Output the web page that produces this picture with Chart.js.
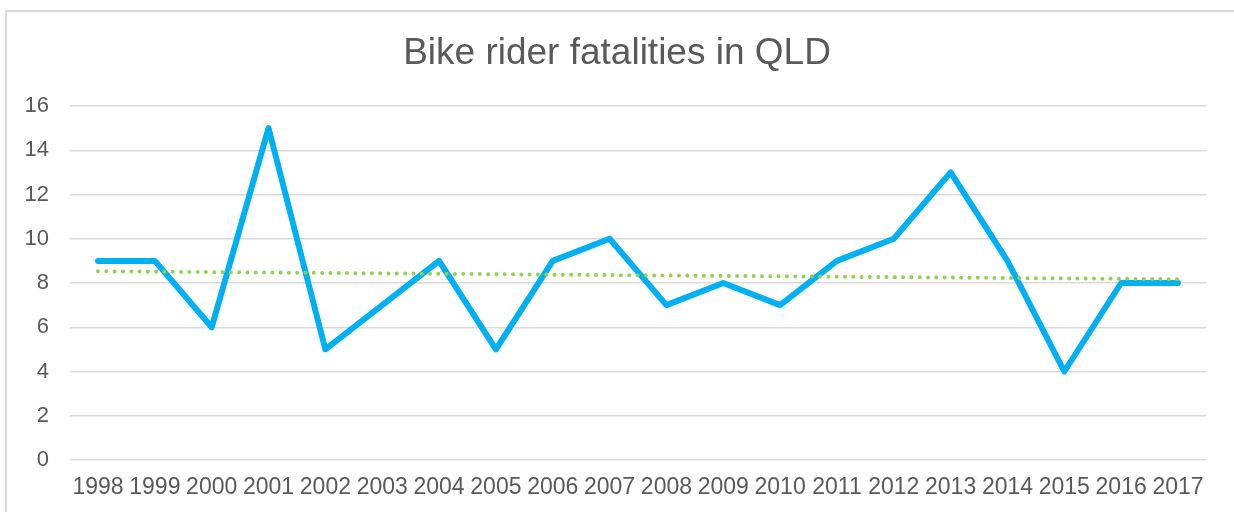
<!DOCTYPE html>
<html>
<head>
<meta charset="utf-8">
<script src="https://cdn.jsdelivr.net/npm/chart.js@4/dist/chart.umd.min.js"></script>
<style>
  html, body { margin: 0; padding: 0; background: #fff; overflow: hidden; }
  #frame { position: absolute; left: 5px; top: 10px; width: 1250px; height: 530px; border: 2px solid #d9d9d9; box-sizing: border-box; }
  #mychart { position: absolute; left: 0; top: 0; }
</style>
</head>
<body>
<div id="frame"></div>
<canvas id="mychart" width="1234" height="512"></canvas>
<script>
const ctx = document.getElementById('mychart').getContext('2d');

const years = ['1998', '1999', '2000', '2001', '2002', '2003', '2004', '2005', '2006', '2007',
               '2008', '2009', '2010', '2011', '2012', '2013', '2014', '2015', '2016', '2017'];
const fatalities = [9, 9, 6, 15, 5, 7, 9, 5, 9, 10, 7, 8, 7, 9, 10, 13, 9, 4, 8, 8];
// trendline ends (straight line between them)
const trendStart = 8.53;
const trendEnd = 8.17;
const yTicks = [0, 2, 4, 6, 8, 10, 12, 14, 16];

const trend = years.map((y, i) => i === 0 ? trendStart : (i === years.length - 1 ? trendEnd : null));

const textColor = '#595959';
const gridColor = '#d9d9d9';
const fontFamily = '"Liberation Sans", Arial, sans-serif';

const chart = new Chart(ctx, {
    type: 'line',
    data: {
        labels: years,
        datasets: [{
            label: 'Linear trend',
            data: trend,
            borderColor: '#92d050',
            borderWidth: 4,
            borderDash: [0, 8.3],
            borderCapStyle: 'round',
            spanGaps: true,
            pointRadius: 0,
            order: 0
        }, {
            label: 'Fatalities',
            data: fatalities,
            borderColor: '#00b0f0',
            borderWidth: 6,
            borderCapStyle: 'round',
            borderJoinStyle: 'round',
            pointRadius: 0,
            tension: 0,
            order: 1
        }]
    },
    options: {
        responsive: false,
        animation: false,
        layout: { padding: { top: 32, left: 0, right: 0, bottom: 0 } },
        plugins: {
            legend: { display: false },
            tooltip: { enabled: false },
            title: {
                display: true,
                text: 'Bike rider fatalities in QLD',
                color: textColor,
                font: { family: fontFamily, size: 37, weight: 'normal' },
                padding: { top: 0, bottom: 29.6 }
            }
        },
        scales: {
            x: {
                offset: true,
                grid: { display: false, drawTicks: false },
                border: { display: false },
                afterFit: (axis) => { axis.height = 52; },
                ticks: {
                    color: textColor,
                    padding: 14,
                    maxRotation: 0,
                    autoSkip: false,
                    font: { family: fontFamily, size: 23 }
                }
            },
            y: {
                min: 0,
                max: 16,
                afterBuildTicks: (axis) => { axis.ticks = yTicks.map(v => ({ value: v })); },
                afterFit: (axis) => { axis.width = 69.6; },
                grid: { color: gridColor, lineWidth: 1.5, drawTicks: false },
                border: { display: false },
                ticks: {
                    color: textColor,
                    padding: 20.6,
                    font: { family: fontFamily, size: 22 }
                }
            },
            // empty right-hand axis, only reserves the right margin
            yRight: {
                position: 'right',
                min: 0,
                max: 16,
                grid: { display: false, drawTicks: false },
                border: { display: false },
                ticks: { display: false },
                afterFit: (axis) => { axis.width = 27.6; }
            }
        }
    }
})
</script>
</body>
</html>
